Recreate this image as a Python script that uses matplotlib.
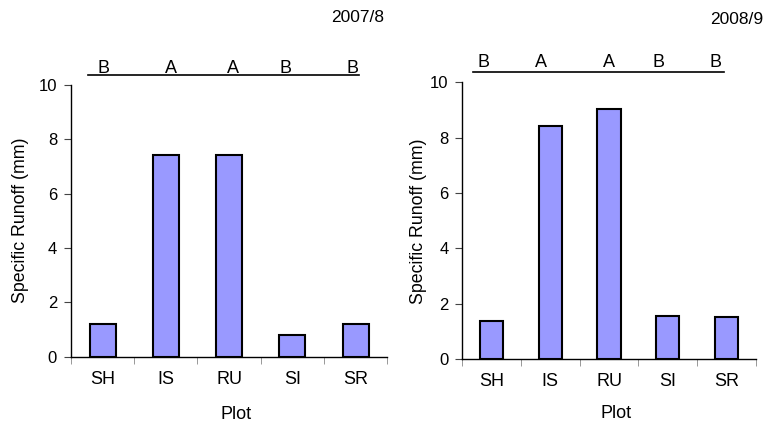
import matplotlib
matplotlib.use("Agg")
import matplotlib.pyplot as plt
import matplotlib.transforms as mtransforms

plt.rcParams['font.family'] = ['Liberation Sans', 'DejaVu Sans']

plots = ["SH", "IS", "RU", "SI", "SR"]
runoff_2007 = [1.21, 7.41, 7.40, 0.79, 1.21]
runoff_2008 = [1.37, 8.42, 9.04, 1.55, 1.52]
groups_2007 = ["B", "A", "A", "B", "B"]
groups_2008 = ["B", "A", "A", "B", "B"]
years = ["2007/8", "2008/9"]
yticks = [0, 2, 4, 6, 8, 10]

fig = plt.figure(figsize=(7.68, 4.24), dpi=100)

specs = [
    dict(rect=[0.0924, 0.1587, 0.4118, 0.6415], vals=runoff_2007, groups=groups_2007,
         letter_x=[0.02, 1.08, 2.06, 2.89, 3.95], line_x=(-0.23, 4.06),
         line_y=1.035, letter_y=1.061, ylab_x=-0.161, xlab=(0.522, -0.211),
         year=years[0], year_pos=(358/768, 1-18/424), width=0.41),
    dict(rect=[0.602, 0.1526, 0.382, 0.6533], vals=runoff_2008, groups=groups_2008,
         letter_x=[-0.14, 0.84, 2.0, 2.85, 3.82], line_x=(-0.31, 3.96),
         line_y=1.037, letter_y=1.070, ylab_x=-0.148, xlab=(0.524, -0.197),
         year=years[1], year_pos=(737/768, 1-20/424), width=0.40),
]

for s in specs:
    ax = fig.add_axes(s["rect"])
    x = list(range(len(plots)))
    ax.bar(x, s["vals"], width=s["width"], color="#9999FF", edgecolor="black", linewidth=1.5)
    ax.set_xlim(-0.5, 4.5)
    ax.set_ylim(0, 10)
    ax.set_yticks(yticks)
    ax.set_yticklabels([str(v) for v in yticks], fontsize=12)
    ax.set_xticks(x)
    ax.set_xticklabels(plots, fontsize=13)
    ax.set_xticks([i - 0.5 for i in range(len(plots) + 1)], minor=True)
    ax.tick_params(axis='x', which='major', length=0, pad=10)
    ax.tick_params(axis='x', which='minor', length=5, color='#888888', direction='out')
    ax.tick_params(axis='y', length=5, direction='out', color='#444444', pad=5)
    for sp in ["top", "right"]:
        ax.spines[sp].set_visible(False)
    ax.spines["left"].set_linewidth(1.0)
    ax.spines["bottom"].set_linewidth(1.0)
    ax.set_ylabel("Specific Runoff (mm)", fontsize=12.8)
    ax.yaxis.label.set_va("center")
    ax.yaxis.set_label_coords(s["ylab_x"], 0.5)
    ax.set_xlabel("Plot", fontsize=13)
    ax.xaxis.label.set_va("center")
    ax.xaxis.set_label_coords(*s["xlab"])
    trans = mtransforms.blended_transform_factory(ax.transData, ax.transAxes)
    ax.plot(s["line_x"], [s["line_y"], s["line_y"]], color="black", lw=1.2,
            transform=trans, clip_on=False)
    for lx, g in zip(s["letter_x"], s["groups"]):
        ax.text(lx, s["letter_y"], g, transform=trans, ha="center", va="center", fontsize=13)
    fig.text(s["year_pos"][0], s["year_pos"][1], s["year"], ha="center", va="center", fontsize=12.5)

fig.savefig("out.png", dpi=100)
